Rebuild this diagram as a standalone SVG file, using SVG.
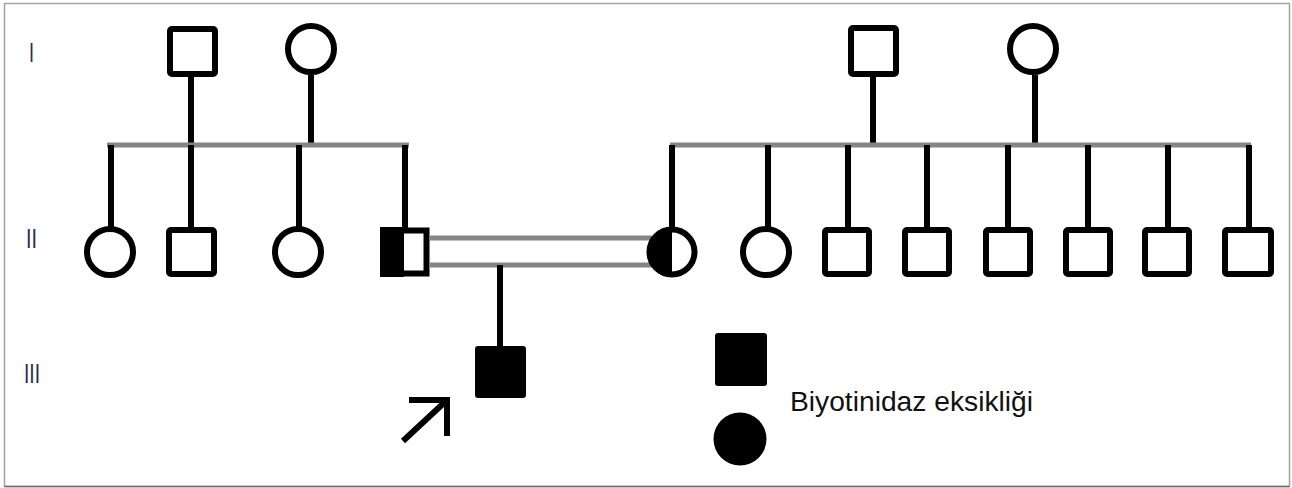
<svg xmlns="http://www.w3.org/2000/svg" width="1292" height="488" viewBox="0 0 1292 488">
  <style>
    .frame { fill: #ffffff; stroke: #a3a3a3; stroke-width: 1.5; }
    .sym { fill: #ffffff; stroke: #000000; stroke-width: 6; }
    .aff { fill: #000000; stroke: none; }
    .line { stroke: #000000; stroke-width: 6; fill: none; }
    .sib { stroke: #858585; stroke-width: 5; fill: none; }
    .gen { font-family: "Liberation Sans", Arial, sans-serif; font-size: 28px; fill: #2a2a50; }
    .lbl { font-family: "Liberation Sans", Arial, sans-serif; font-size: 27px; fill: #111111; }
  </style>

  <rect class="frame" x="4.5" y="3.5" width="1285" height="483"/>
  <line x1="4.5" y1="486.5" x2="1289.5" y2="486.5" stroke="#6a6a6a" stroke-width="1.5"/>

  <!-- generation numerals -->
  <g id="generations">
    <text class="gen" x="29" y="62" textLength="5" lengthAdjust="spacingAndGlyphs">I</text>
    <text class="gen" x="26" y="248" textLength="11" lengthAdjust="spacingAndGlyphs">II</text>
    <text class="gen" x="24" y="383" textLength="16" lengthAdjust="spacingAndGlyphs">III</text>
  </g>

  <!-- connectors -->
  <g id="connectors">
    <!-- left family -->
    <line class="line" x1="191" y1="77" x2="191" y2="145"/>
    <line class="line" x1="311" y1="75" x2="311" y2="145"/>
    <line class="sib" x1="107" y1="145" x2="409" y2="145"/>
    <line class="line" x1="111" y1="145" x2="111" y2="228"/>
    <line class="line" x1="191" y1="145" x2="191" y2="228"/>
    <line class="line" x1="299" y1="145" x2="299" y2="228"/>
    <line class="line" x1="405" y1="145" x2="405" y2="228"/>
    <!-- right family -->
    <line class="line" x1="873" y1="77" x2="873" y2="145"/>
    <line class="line" x1="1035" y1="75" x2="1035" y2="145"/>
    <line class="sib" x1="670" y1="145" x2="1251" y2="145"/>
    <line class="line" x1="672" y1="145" x2="672" y2="228"/>
    <line class="line" x1="768" y1="145" x2="768" y2="228"/>
    <line class="line" x1="848" y1="145" x2="848" y2="228"/>
    <line class="line" x1="927" y1="145" x2="927" y2="228"/>
    <line class="line" x1="1008" y1="145" x2="1008" y2="228"/>
    <line class="line" x1="1088" y1="145" x2="1088" y2="228"/>
    <line class="line" x1="1168" y1="145" x2="1168" y2="228"/>
    <line class="line" x1="1249" y1="145" x2="1249" y2="228"/>
    <!-- consanguineous marriage and offspring -->
    <line class="sib" x1="430" y1="238" x2="652" y2="238"/>
    <line class="sib" x1="430" y1="265" x2="652" y2="265"/>
    <line class="line" x1="500" y1="265" x2="500" y2="347"/>
    <!-- proband arrow -->
    <line class="line" x1="403" y1="441" x2="446" y2="401" stroke-width="5"/>
    <polyline class="line" points="409,400 447,400 447,436" stroke-width="5"/>
  </g>

  <!-- generation I -->
  <g id="I-1"><rect class="sym" x="170" y="29" width="45" height="45" rx="2"/></g>
  <g id="I-2"><circle class="sym" cx="311" cy="49" r="23"/></g>
  <g id="I-3"><rect class="sym" x="851" y="28" width="45" height="46" rx="2"/></g>
  <g id="I-4"><circle class="sym" cx="1033" cy="49" r="23"/></g>

  <!-- generation II -->
  <g id="II-1"><circle class="sym" cx="110" cy="252" r="23"/></g>
  <g id="II-2"><rect class="sym" x="169" y="230" width="45" height="44" rx="2"/></g>
  <g id="II-3"><circle class="sym" cx="298" cy="252" r="23"/></g>
  <g id="II-4">
    <rect class="sym" x="383.5" y="230.5" width="43" height="43" stroke-width="7"/>
    <rect class="aff" x="380" y="227" width="24" height="50"/>
  </g>
  <g id="II-5">
    <circle class="sym" cx="672" cy="252" r="22.5"/>
    <path class="aff" d="M672,227 A25,25 0 0 0 672,277 Z"/>
  </g>
  <g id="II-6"><circle class="sym" cx="766" cy="252" r="23"/></g>
  <g id="II-7"><rect class="sym" x="825" y="230" width="44" height="44" rx="2"/></g>
  <g id="II-8"><rect class="sym" x="905" y="230" width="44" height="44" rx="2"/></g>
  <g id="II-9"><rect class="sym" x="986" y="230" width="44" height="44" rx="2"/></g>
  <g id="II-10"><rect class="sym" x="1066" y="230" width="44" height="44" rx="2"/></g>
  <g id="II-11"><rect class="sym" x="1145" y="230" width="44" height="44" rx="2"/></g>
  <g id="II-12"><rect class="sym" x="1225" y="230" width="46" height="44" rx="2"/></g>

  <!-- generation III: proband -->
  <g id="III-1"><rect class="aff" x="475" y="346" width="51" height="52" rx="3"/></g>

  <!-- legend -->
  <g id="legend">
    <rect class="aff" x="715" y="333" width="52" height="53" rx="3"/>
    <circle class="aff" cx="740" cy="439" r="26.5"/>
    <text class="lbl" x="790" y="411" textLength="243" lengthAdjust="spacingAndGlyphs">Biyotinidaz eksikliği</text>
  </g>
</svg>
